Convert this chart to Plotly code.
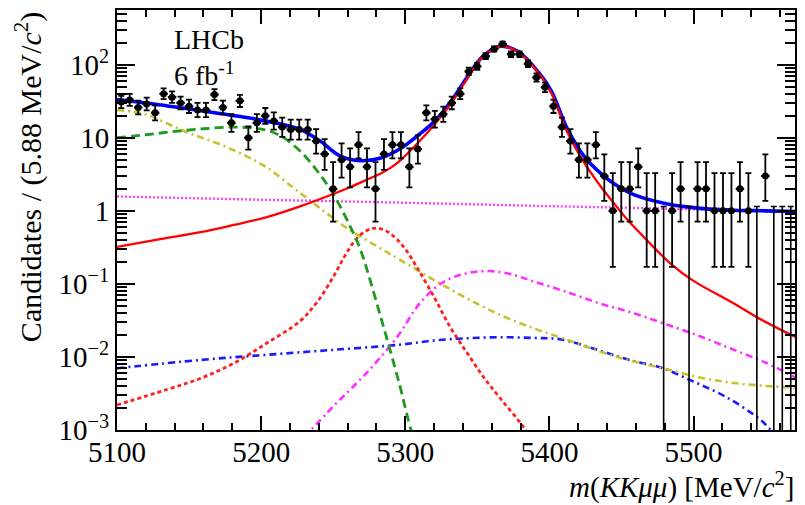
import numpy as np
import plotly.graph_objects as go

# ---------------------------------------------------------------------------
# Binning of the m(KKmumu) spectrum
# ---------------------------------------------------------------------------
M_LO = 5100.0
BIN_WIDTH = 5.88
N_BINS = 80
M_HI = M_LO + N_BINS * BIN_WIDTH
bin_centres = M_LO + BIN_WIDTH * (np.arange(N_BINS) + 0.5)

# Candidates per bin
counts = [
    31, 33, 26, 29, 22, 40, 36, 30, 27, 24,
    24, 39, 26, 16, 32, 10, 16, 20, 17, 14,
    13, 13, 13, 9, 6, 2, 5, 4, 8, 4,
    2, 6, 8, 8, 4, 7, 22, 18, 21, 30,
    40, 81, 95, 131, 164, 192, 139, 139, 103, 67,
    49, 27, 14, 9, 5, 5, 8, 3, 1, 2,
    2, 4, 1, 1, 0, 1, 2, 0, 2, 2,
    1, 1, 1, 2, 1, 0, 3, 0, 0, 0,
]

# ---------------------------------------------------------------------------
# Fit projections: (mass, value) samples of each component
# ---------------------------------------------------------------------------
total_m = [5100, 5123, 5158, 5192, 5213, 5227, 5241, 5255, 5269, 5283,
           5297, 5310, 5320, 5331, 5343, 5354, 5366, 5378, 5389, 5401,
           5412, 5424, 5436, 5447, 5459, 5482, 5505, 5528, 5550, 5571]
total_v = [33.5, 29.5, 23.5, 18.6, 15.5, 13.0, 9.0, 5.6, 4.85, 5.3,
           7.2, 11.3, 16.5, 30.0, 68.0, 131.0, 179.0, 153.0, 95.0, 45.0,
           13.8, 5.6, 3.2, 2.2, 1.65, 1.24, 1.08, 1.02, 1.0, 0.98]

bs_m = [5100, 5130, 5158, 5181, 5204, 5227, 5250, 5262, 5273, 5283,
        5290, 5297, 5308, 5320, 5331, 5343, 5354, 5366, 5378,
        5389, 5401, 5412, 5424, 5436, 5445, 5454, 5468, 5484, 5500,
        5528, 5545, 5571]
bs_v = [0.32, 0.41, 0.51, 0.64, 0.82, 1.15, 1.7, 2.12, 2.65, 3.25,
        3.9, 5.0, 8.2, 15.0, 28.0, 64.0, 130.0, 178.0, 151.0,
        94.0, 42.0, 12.4, 4.6, 2.1, 1.25, 0.76, 0.39, 0.19, 0.11,
        0.054, 0.034, 0.0186]

partreco_m = [5100, 5120, 5140, 5160, 5180, 5195, 5205, 5215, 5227, 5239,
              5250, 5262, 5269, 5283, 5296, 5304, 5307]
partreco_v = [10.0, 11.0, 12.2, 13.3, 14.0, 13.6, 12.5, 10.2, 6.6, 3.5,
              1.7, 0.6, 0.29, 0.035, 0.0042, 0.001, 0.0007]

lowmass_m = [5100, 5120, 5136, 5152, 5171, 5189, 5205, 5222, 5234, 5246,
             5260, 5280, 5297, 5320, 5343, 5366, 5389, 5410, 5435, 5458,
             5480, 5505, 5528, 5551, 5571]
lowmass_v = [24.0, 21.0, 15.3, 11.2, 8.2, 5.7, 3.8, 2.1, 1.38, 0.91,
             0.57, 0.33, 0.21, 0.113, 0.063, 0.0375, 0.0247, 0.0178, 0.0119, 0.0087,
             0.0069, 0.0052, 0.0044, 0.0040, 0.0038]

comb_m = [5100, 5200, 5300, 5400, 5500, 5571]
comb_v = [1.57, 1.42, 1.29, 1.16, 1.05, 0.97]

bd_m = [5100, 5135, 5158, 5181, 5204, 5227, 5239, 5250, 5258, 5265,
        5272, 5279, 5286, 5293, 5300, 5308, 5320, 5331, 5343, 5354,
        5366, 5382, 5388]
bd_v = [0.0022, 0.0036, 0.0051, 0.0082, 0.0155, 0.031, 0.057, 0.124, 0.24, 0.39,
        0.52, 0.58, 0.54, 0.43, 0.30, 0.17, 0.066, 0.026, 0.0113, 0.0054,
        0.0027, 0.0011, 0.0007]

peak2_m = [5230, 5250, 5273, 5295, 5308, 5320, 5331, 5343, 5358, 5373,
           5389, 5410, 5435, 5458, 5482, 5505, 5528, 5551, 5571]
peak2_v = [0.0008, 0.0021, 0.006, 0.0195, 0.048, 0.086, 0.118, 0.140, 0.150, 0.136,
           0.108, 0.080, 0.054, 0.040, 0.0275, 0.019, 0.0125, 0.0082, 0.0052]

broad_m = [5100, 5158, 5204, 5250, 5296, 5320, 5343, 5366, 5389, 5408,
           5435, 5458, 5477, 5500, 5523, 5546, 5554, 5560]
broad_v = [0.0070, 0.0091, 0.0107, 0.0125, 0.0147, 0.0168, 0.0180, 0.0186, 0.0182, 0.0174,
           0.0122, 0.0088, 0.0072, 0.0046, 0.0028, 0.0014, 0.00098, 0.0007]

# Axis ticks
x_ticks = [5100, 5200, 5300, 5400, 5500]
y_tickvals = [1e-3, 1e-2, 1e-1, 1, 10, 100]
y_ticktext = ["10<sup>\u22123</sup>", "10<sup>\u22122</sup>", "10<sup>\u22121</sup>",
              "1", "10", "10<sup>2</sup>"]
y_minor = [k * 10.0 ** e for e in range(-3, 3) for k in range(2, 10) if k * 10.0 ** e < 600]


def poisson_interval(n):
    """68.3% interval for a Poisson count (one-sided for an empty bin)."""
    if n == 0:
        return 0.0, 1.148
    lo = n * (1 - 1 / (9 * n) - 1 / (3 * np.sqrt(n))) ** 3
    hi = (n + 1) * (1 - 1 / (9 * (n + 1)) + 1 / (3 * np.sqrt(n + 1))) ** 3
    return lo, hi


FONT = "Liberation Serif"
fig = go.Figure()

curves = [
    (broad_m, broad_v, "#1a1aff", "7px,4px,2px,4px", 2.6),
    (peak2_m, peak2_v, "#ff30ff", "7px,4px,2px,4px", 2.6),
    (lowmass_m, lowmass_v, "#c8c030", "7px,4px,2px,4px", 2.6),
    (bd_m, bd_v, "#ff2020", "4px,3px", 2.8),
    (comb_m, comb_v, "#ff40ff", "2px,2px", 2.4),
    (partreco_m, partreco_v, "#1e9a1e", "9px,5px", 2.8),
    (total_m, total_v, "#0000ff", "solid", 3.6),
    (bs_m, bs_v, "#ff0000", "solid", 2.3),
]
for xm, yv, col, dash, w in curves:
    fig.add_trace(go.Scatter(
        x=xm, y=yv, mode="lines",
        line=dict(color=col, width=w, dash=dash, shape="spline", smoothing=1.0),
        hoverinfo="skip", showlegend=False,
    ))

# Data points with Poisson uncertainties
cnt = np.array(counts)
intervals = np.array([poisson_interval(n) for n in counts])
filled = cnt > 0
empty = ~filled

fig.add_trace(go.Scatter(
    x=bin_centres[filled], y=cnt[filled], mode="markers",
    marker=dict(color="black", size=7),
    error_y=dict(type="data", symmetric=False,
                 array=intervals[filled, 1] - cnt[filled],
                 arrayminus=cnt[filled] - intervals[filled, 0],
                 color="black", thickness=1.8, width=3),
    error_x=dict(type="data", array=[BIN_WIDTH / 2] * int(filled.sum()),
                 color="black", thickness=2.2, width=0),
    showlegend=False,
))
# Empty bins: only the upper limit is drawn
fig.add_trace(go.Scatter(
    x=bin_centres[empty], y=intervals[empty, 1], mode="markers",
    marker=dict(color="rgba(0,0,0,0)", size=1),
    error_y=dict(type="data", symmetric=False,
                 array=[0] * int(empty.sum()),
                 arrayminus=intervals[empty, 1],
                 color="black", thickness=1.6, width=3),
    showlegend=False,
))

axis_common = dict(
    showline=True, linecolor="black", linewidth=2, mirror="allticks",
    ticks="inside", tickcolor="black", tickwidth=1.5,
    showgrid=False, zeroline=False,
    tickfont=dict(family=FONT, size=29, color="black"),
)
fig.update_xaxes(
    range=[M_LO, M_HI], tickmode="array", tickvals=x_ticks, ticklen=14,
    minor=dict(ticks="inside", ticklen=7, dtick=20, tick0=5100,
               tickcolor="black", tickwidth=1.5),
    **axis_common,
)
# pull the mass labels a little closer to the frame
try:
    fig.update_xaxes(ticklabelstandoff=-5)
except Exception:
    pass
fig.update_yaxes(
    type="log", range=[-3, 2.749], tickmode="array",
    tickvals=y_tickvals, ticktext=y_ticktext, ticklen=18,
    minor=dict(ticks="inside", ticklen=10, tickmode="array", tickvals=y_minor,
               tickcolor="black", tickwidth=1.5),
    **axis_common,
)

fig.update_layout(
    width=805, height=505,
    margin=dict(l=117, r=9, t=8, b=75),
    plot_bgcolor="white", paper_bgcolor="white",
    showlegend=False,
    font=dict(family=FONT, size=29, color="black"),
    annotations=[
        dict(text="LHCb<br>6 fb<sup>-1</sup>", align="left",
             xref="paper", yref="paper",
             x=(172 - 117) / 679, y=(430 - 20) / 422, xanchor="left", yanchor="top",
             showarrow=False, font=dict(family=FONT, size=28)),
        dict(text="Candidates / (5.88 MeV/<i>c</i><sup>2</sup>)", xref="paper", yref="paper",
             x=(28 - 117) / 679, y=(430 - 8) / 422, xanchor="center", yanchor="top",
             textangle=-90, showarrow=False, font=dict(family=FONT, size=30)),
        dict(text="<i>m</i>(<i>KK\u03bc\u03bc</i>) [MeV/<i>c</i><sup>2</sup>]",
             xref="paper", yref="paper",
             x=(797 - 117) / 679, y=(430 - 486) / 422, xanchor="right", yanchor="middle",
             showarrow=False, font=dict(family=FONT, size=29)),
    ],
)

fig.write_html("out.html")
